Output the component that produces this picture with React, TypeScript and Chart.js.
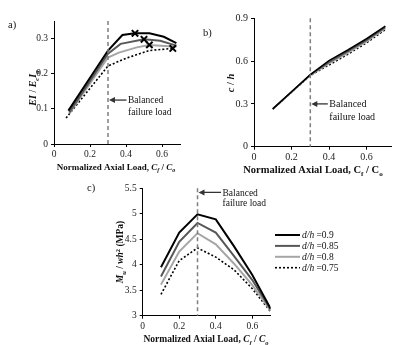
import React, { useEffect, useRef } from 'react';
import { Chart, registerables } from 'chart.js';
Chart.register(...registerables);

const FAMILY = '"Liberation Serif", "Times New Roman", serif';
const W = 393;
const H = 345;

// ---------- Data ----------
// Panel a) EI / EcIg vs Cf/Co
const aBlackX = [0.08, 0.3, 0.38, 0.45, 0.53, 0.61, 0.68];
const aBlackY = [0.095, 0.266, 0.31, 0.315, 0.315, 0.305, 0.287];
const aDarkX = [0.085, 0.3, 0.37, 0.5, 0.59, 0.68];
const aDarkY = [0.09, 0.257, 0.285, 0.298, 0.294, 0.28];
const aLightX = [0.085, 0.3, 0.36, 0.46, 0.53, 0.68];
const aLightY = [0.087, 0.246, 0.26, 0.275, 0.282, 0.277];
const aDotX = [0.067, 0.3, 0.4, 0.53, 0.66];
const aDotY = [0.074, 0.222, 0.244, 0.266, 0.272];
const aMarkX = [0.45, 0.5, 0.53, 0.66];
const aMarkY = [0.315, 0.298, 0.282, 0.272];

// Panel b) c / h vs Cf/Co
const bX = [0.1, 0.2, 0.3, 0.4, 0.5, 0.6, 0.7];
const bBlack = [0.265, 0.385, 0.505, 0.603, 0.678, 0.757, 0.845];
const bDark = [0.265, 0.384, 0.503, 0.592, 0.667, 0.746, 0.837];
const bLight = [0.264, 0.383, 0.501, 0.582, 0.657, 0.737, 0.83];
const bDot = [0.262, 0.381, 0.498, 0.572, 0.647, 0.727, 0.82];

// Panel c) Mu / wh^2 vs Cf/Co
const cX = [0.1, 0.2, 0.3, 0.4, 0.5, 0.6, 0.7];
const cBlack = [3.95, 4.63, 4.99, 4.89, 4.36, 3.8, 3.14];
const cDark = [3.77, 4.45, 4.82, 4.63, 4.17, 3.7, 3.12];
const cLight = [3.61, 4.26, 4.62, 4.4, 4.02, 3.6, 3.1];
const cDot = [3.42, 4.08, 4.33, 4.15, 3.9, 3.53, 3.08];

const dhValues = ['0.9', '0.85', '0.8', '0.75'];
const balancedLoad = 0.3;
const noteLines = ['Balanced', 'failure load'];

// ---------- Styles ----------
const STYLES = [
  { color: '#000000', width: 2, dash: [] as number[] },
  { color: '#585858', width: 2, dash: [] as number[] },
  { color: '#a6a6a6', width: 2, dash: [] as number[] },
  { color: '#000000', width: 1.6, dash: [2, 2] },
];

type Seg = { t: string; b?: boolean; i?: boolean; sub?: boolean; sup?: boolean };

function segFont(s: Seg, size: number) {
  const sz = s.sub || s.sup ? size * 0.68 : size;
  return `${s.i ? 'italic ' : ''}${s.b ? 'bold ' : ''}${sz}px ${FAMILY}`;
}

function drawRich(ctx: CanvasRenderingContext2D, segs: Seg[], x: number, y: number, size: number, align: 'center' | 'left', rotate = false) {
  ctx.save();
  ctx.translate(x, y);
  if (rotate) ctx.rotate(-Math.PI / 2);
  ctx.textBaseline = 'alphabetic';
  ctx.textAlign = 'left';
  ctx.fillStyle = '#111';
  let total = 0;
  const widths = segs.map((s) => {
    ctx.font = segFont(s, size);
    const w = ctx.measureText(s.t).width;
    total += w;
    return w;
  });
  let cx = align === 'center' ? -total / 2 : 0;
  const base = size * 0.33;
  segs.forEach((s, k) => {
    ctx.font = segFont(s, size);
    const off = s.sub ? size * 0.25 : s.sup ? -size * 0.38 : 0;
    ctx.fillText(s.t, cx, base + off);
    cx += widths[k];
  });
  ctx.restore();
}

interface Panel {
  id: string;
  area: { l: number; t: number; r: number; b: number };
  xMax: number;
  yMin: number;
  yMax: number;
  yStep: number;
  tickSize: number;
  series: { x: number[]; y: number[] }[];
  widthScale: number;
  markers?: { x: number[]; y: number[] };
  label: string;
  labelPos: [number, number];
  xTitle: Seg[];
  xTitlePos: [number, number];
  xTitleSize: number;
  yTitle: Seg[];
  yTitlePos: [number, number];
  yTitleSize: number;
  note: { y: number; dx: number; lh: number; size: number };
  legend?: { x: number; y: number; row: number; size: number; len: number };
}

const axisTitle = (sub1: string, sub2: string, italic: boolean): Seg[] => [
  { t: 'Normalized Axial Load, ', b: true },
  { t: 'C', b: true, i: italic },
  { t: sub1, b: true, i: italic, sub: true },
  { t: ' / ', b: true },
  { t: 'C', b: true, i: italic },
  { t: sub2, b: true, i: italic, sub: true },
];

const PANELS: Panel[] = [
  {
    id: 'a',
    area: { l: 54, t: 21, r: 180, b: 144 },
    xMax: 0.7, yMin: 0, yMax: 0.35, yStep: 0.1, tickSize: 9.5,
    series: [
      { x: aBlackX, y: aBlackY },
      { x: aDarkX, y: aDarkY },
      { x: aLightX, y: aLightY },
      { x: aDotX, y: aDotY },
    ],
    widthScale: 1,
    markers: { x: aMarkX, y: aMarkY },
    label: 'a)', labelPos: [8, 25],
    xTitle: axisTitle('f', 'o', true), xTitlePos: [116, 167], xTitleSize: 9,
    yTitle: [
      { t: 'EI', b: true, i: true }, { t: ' / ', b: true }, { t: 'E', b: true, i: true },
      { t: 'c', b: true, i: true, sub: true }, { t: 'I', b: true, i: true }, { t: 'g', b: true, i: true, sub: true },
    ],
    yTitlePos: [33, 88], yTitleSize: 10,
    note: { y: 0.125, dx: 20, lh: 12, size: 9.5 },
  },
  {
    id: 'b',
    area: { l: 254, t: 18.3, r: 391, b: 146.7 },
    xMax: 0.73, yMin: 0, yMax: 0.9, yStep: 0.3, tickSize: 10,
    series: [
      { x: bX, y: bBlack },
      { x: bX, y: bDark },
      { x: bX, y: bLight },
      { x: bX, y: bDot },
    ],
    widthScale: 0.8,
    label: 'b)', labelPos: [203, 33],
    xTitle: axisTitle('f', 'o', false), xTitlePos: [313, 170], xTitleSize: 10.5,
    yTitle: [{ t: 'c', b: true, i: true }, { t: ' / ', b: true }, { t: 'h', b: true, i: true }],
    yTitlePos: [231, 83], yTitleSize: 10.5,
    note: { y: 0.3, dx: 19, lh: 12.5, size: 10 },
  },
  {
    id: 'c',
    area: { l: 142.7, t: 188.3, r: 270.6, b: 315.7 },
    xMax: 0.7, yMin: 3, yMax: 5.5, yStep: 0.5, tickSize: 9.5,
    series: [
      { x: cX, y: cBlack },
      { x: cX, y: cDark },
      { x: cX, y: cLight },
      { x: cX, y: cDot },
    ],
    widthScale: 1,
    label: 'c)', labelPos: [87, 188],
    xTitle: axisTitle('f', 'o', true), xTitlePos: [206, 339], xTitleSize: 9.5,
    yTitle: [
      { t: 'M', b: true, i: true }, { t: 'u', b: true, i: true, sub: true }, { t: ' / ', b: true },
      { t: 'wh', b: true, i: true }, { t: '2', b: true, sup: true }, { t: ' (MPa)', b: true },
    ],
    yTitlePos: [120, 252], yTitleSize: 9.5,
    note: { y: 5.42, dx: 25, lh: 10.7, size: 9.5 },
    legend: { x: 275, y: 235, row: 10.9, size: 9.5, len: 25 },
  },
];

const zip = (xs: number[], ys: number[]) => xs.map((x, k) => ({ x, y: ys[k] }));
const fmt = (v: number) => String(parseFloat(Number(v).toFixed(2)));

function makePlugin(p: Panel) {
  return {
    id: 'panel_' + p.id,
    afterDatasetsDraw(chart: any) {
      const ctx: CanvasRenderingContext2D = chart.ctx;
      const { top, bottom } = chart.chartArea;
      const xs = chart.scales.x;
      const ys = chart.scales.y;
      const vx = xs.getPixelForValue(balancedLoad);
      // dashed balanced-failure line
      ctx.save();
      ctx.strokeStyle = '#7f7f7f';
      ctx.lineWidth = 1.5;
      ctx.setLineDash([4, 3]);
      ctx.beginPath();
      ctx.moveTo(vx, top);
      ctx.lineTo(vx, bottom);
      ctx.stroke();
      ctx.restore();
      // arrow + note
      const ny = ys.getPixelForValue(p.note.y);
      const tx = vx + p.note.dx;
      ctx.save();
      ctx.strokeStyle = '#333';
      ctx.fillStyle = '#333';
      ctx.lineWidth = 1.3;
      ctx.beginPath();
      ctx.moveTo(vx + 5, ny);
      ctx.lineTo(tx - 1.5, ny);
      ctx.stroke();
      ctx.beginPath();
      ctx.moveTo(vx + 1, ny);
      ctx.lineTo(vx + 7, ny - 3);
      ctx.lineTo(vx + 7, ny + 3);
      ctx.closePath();
      ctx.fill();
      ctx.restore();
      drawRich(ctx, [{ t: noteLines[0] }], tx, ny, p.note.size, 'left');
      drawRich(ctx, [{ t: noteLines[1] }], tx, ny + p.note.lh, p.note.size, 'left');
      // panel label and axis titles
      drawRich(ctx, [{ t: p.label }], p.labelPos[0], p.labelPos[1], 10.5, 'left');
      drawRich(ctx, p.xTitle, p.xTitlePos[0], p.xTitlePos[1], p.xTitleSize, 'center');
      drawRich(ctx, p.yTitle, p.yTitlePos[0], p.yTitlePos[1], p.yTitleSize, 'center', true);
      // legend
      if (p.legend) {
        const L = p.legend;
        dhValues.forEach((v, k) => {
          const st = STYLES[k];
          const y = L.y + k * L.row;
          ctx.save();
          ctx.strokeStyle = st.color;
          ctx.lineWidth = st.width;
          ctx.setLineDash(st.dash);
          ctx.beginPath();
          ctx.moveTo(L.x, y);
          ctx.lineTo(L.x + L.len, y);
          ctx.stroke();
          ctx.restore();
          drawRich(ctx, [{ t: 'd/h', i: true }, { t: ' =' + v }], L.x + L.len + 2, y, L.size, 'left');
        });
      }
    },
  };
}

function makeConfig(p: Panel): any {
  const datasets: any[] = [];
  if (p.markers) {
    datasets.push({
      data: zip(p.markers.x, p.markers.y),
      showLine: false,
      pointStyle: 'crossRot',
      pointRadius: 4.5,
      pointBorderWidth: 2,
      pointBorderColor: '#000',
      borderColor: '#000',
    });
  }
  p.series.forEach((s, k) => {
    const st = STYLES[k];
    datasets.push({
      data: zip(s.x, s.y),
      borderColor: st.color,
      borderWidth: st.width * p.widthScale,
      borderDash: st.dash,
      pointRadius: 0,
      tension: 0,
      fill: false,
    });
  });
  const tickFont = { family: FAMILY, size: p.tickSize };
  const grid = { display: true, drawOnChartArea: false, drawTicks: true, tickLength: 3, color: '#000', lineWidth: 1 };
  const border = { display: true, color: '#000', width: 1 };
  return {
    type: 'line',
    data: { datasets },
    options: {
      animation: false,
      responsive: false,
      devicePixelRatio: 1,
      layout: { padding: { left: 0, top: p.area.t, right: W - p.area.r, bottom: 0 } },
      plugins: { legend: { display: false }, tooltip: { enabled: false } },
      scales: {
        x: {
          type: 'linear',
          min: 0,
          max: p.xMax,
          grid,
          border,
          ticks: { stepSize: 0.2, includeBounds: false, font: tickFont, color: '#222', padding: 2, maxRotation: 0, autoSkip: false, callback: (v: number) => fmt(v) },
          afterFit: (s: any) => { s.height = H - p.area.b; },
        },
        y: {
          type: 'linear',
          min: p.yMin,
          max: p.yMax,
          grid,
          border,
          ticks: { stepSize: p.yStep, includeBounds: false, font: tickFont, color: '#222', padding: 3, autoSkip: false, callback: (v: number) => fmt(v) },
          afterFit: (s: any) => { s.width = p.area.l; },
        },
      },
    },
    plugins: [makePlugin(p)],
  };
}

function PanelChart({ p }: { p: Panel }) {
  const ref = useRef<HTMLCanvasElement | null>(null);
  useEffect(() => {
    if (!ref.current) return;
    const chart = new Chart(ref.current, makeConfig(p));
    return () => chart.destroy();
  }, [p]);
  return (
    <canvas
      ref={ref}
      width={W}
      height={H}
      style={{ position: 'absolute', left: 0, top: 0, width: W, height: H }}
    />
  );
}

export default function App() {
  return (
    <div style={{ position: 'fixed', left: 0, top: 0, width: W, height: H, background: '#fff', overflow: 'hidden' }}>
      {PANELS.map((p) => (
        <PanelChart key={p.id} p={p} />
      ))}
    </div>
  );
}
